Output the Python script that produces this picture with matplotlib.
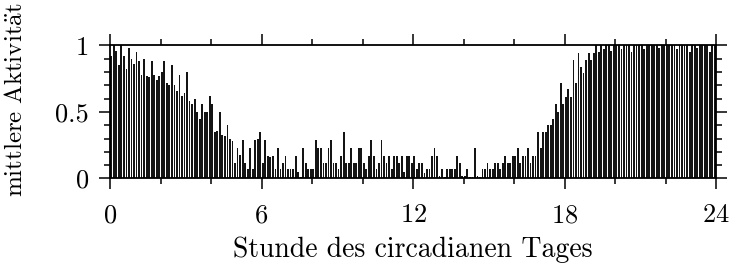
import numpy as np
import matplotlib
matplotlib.use('Agg')
import matplotlib.pyplot as plt
from matplotlib.ticker import MultipleLocator

# mittlere Aktivitaet je 6-Minuten-Intervall, eine Zeile pro Stunde (0..23)
activity = [
    0.92, 1.00, 0.96, 0.85, 1.00, 0.92, 0.82, 0.98, 0.90, 0.86,
    0.95, 0.88, 0.78, 0.90, 0.77, 0.76, 0.88, 0.78, 0.74, 0.77,
    0.80, 0.88, 0.72, 0.70, 0.85, 0.70, 0.66, 0.78, 0.62, 0.64,
    0.80, 0.58, 0.56, 0.60, 0.50, 0.45, 0.56, 0.50, 0.50, 0.62,
    0.56, 0.35, 0.36, 0.50, 0.33, 0.32, 0.40, 0.30, 0.28, 0.12,
    0.23, 0.18, 0.29, 0.12, 0.07, 0.23, 0.07, 0.29, 0.30, 0.35,
    0.12, 0.29, 0.17, 0.16, 0.17, 0.07, 0.23, 0.07, 0.12, 0.17,
    0.07, 0.07, 0.07, 0.17, 0.05, 0.01, 0.23, 0.12, 0.07, 0.07,
    0.07, 0.29, 0.23, 0.23, 0.12, 0.12, 0.23, 0.29, 0.12, 0.12,
    0.07, 0.17, 0.35, 0.12, 0.12, 0.23, 0.12, 0.12, 0.23, 0.23,
    0.12, 0.07, 0.17, 0.29, 0.17, 0.07, 0.12, 0.29, 0.17, 0.12,
    0.17, 0.07, 0.17, 0.17, 0.12, 0.17, 0.05, 0.17, 0.17, 0.12,
    0.17, 0.07, 0.12, 0.12, 0.04, 0.07, 0.07, 0.17, 0.23, 0.17,
    0.02, 0.07, 0.01, 0.07, 0.07, 0.07, 0.07, 0.17, 0.12, 0.02,
    0.02, 0.07, 0.01, 0.01, 0.23, 0.02, 0.01, 0.07, 0.07, 0.12,
    0.07, 0.07, 0.12, 0.12, 0.07, 0.12, 0.17, 0.12, 0.12, 0.17,
    0.17, 0.23, 0.12, 0.17, 0.17, 0.23, 0.12, 0.17, 0.17, 0.35,
    0.23, 0.35, 0.35, 0.40, 0.40, 0.45, 0.56, 0.50, 0.72, 0.56,
    0.61, 0.67, 0.61, 0.89, 0.72, 0.94, 0.84, 0.79, 0.89, 0.94,
    0.89, 0.94, 1.00, 0.95, 1.00, 0.97, 1.00, 1.00, 0.96, 1.00,
    1.00, 1.00, 0.97, 1.00, 1.00, 1.00, 0.95, 1.00, 1.00, 1.00,
    1.00, 0.97, 1.00, 1.00, 1.00, 1.00, 1.00, 0.98, 1.00, 1.00,
    1.00, 1.00, 1.00, 1.00, 0.97, 1.00, 1.00, 1.00, 1.00, 0.95,
    1.00, 1.00, 0.98, 1.00, 1.00, 1.00, 1.00, 0.95, 1.00, 1.00,
]
bin_hours = 0.1
x_ticks = [0, 6, 12, 18, 24]
y_ticks = [0, 0.5, 1]
y_tick_labels = ['0', '0.5', '1']
x_label = 'Stunde des circadianen Tages'
y_label = r'$\mathrm{mittlere\ Aktivit\ddot{a}t}$'

plt.rcParams['font.family'] = ['cmr10', 'DejaVu Serif']
plt.rcParams['mathtext.fontset'] = 'cm'
plt.rcParams['axes.formatter.use_mathtext'] = True
plt.rcParams['font.size'] = 19

fig = plt.figure(figsize=(7.3, 2.66), dpi=100)
ax = fig.add_axes([0.1507, 0.329, 0.8303, 0.500])

hours = np.arange(len(activity)) * bin_hours + bin_hours / 2
ax.bar(hours, activity, width=bin_hours * 0.72, color='#141414',
       edgecolor='none', linewidth=0)

ax.set_xlim(0, 24)
ax.set_ylim(0, 1)
ax.set_xticks(x_ticks)
ax.set_yticks(y_ticks)
ax.set_yticklabels(y_tick_labels)
ax.xaxis.set_minor_locator(MultipleLocator(2))
ax.yaxis.set_minor_locator(MultipleLocator(0.1))
ax.tick_params(which='both', direction='out', top=True, right=True,
               labeltop=False, labelright=False, width=1.1, color='black',
               labelsize=19)
ax.tick_params(which='major', length=8)
ax.tick_params(axis='x', which='major', pad=10)
ax.tick_params(axis='y', which='major', pad=7)
ax.tick_params(which='minor', length=4.5)
for s in ax.spines.values():
    s.set_linewidth(1.3)

ax.set_xlabel(x_label, labelpad=7, fontsize=20)
ax.set_ylabel(y_label, fontsize=18)
ax.yaxis.set_label_coords(-0.137, 0.59)

fig.savefig('out.png', dpi=100)
